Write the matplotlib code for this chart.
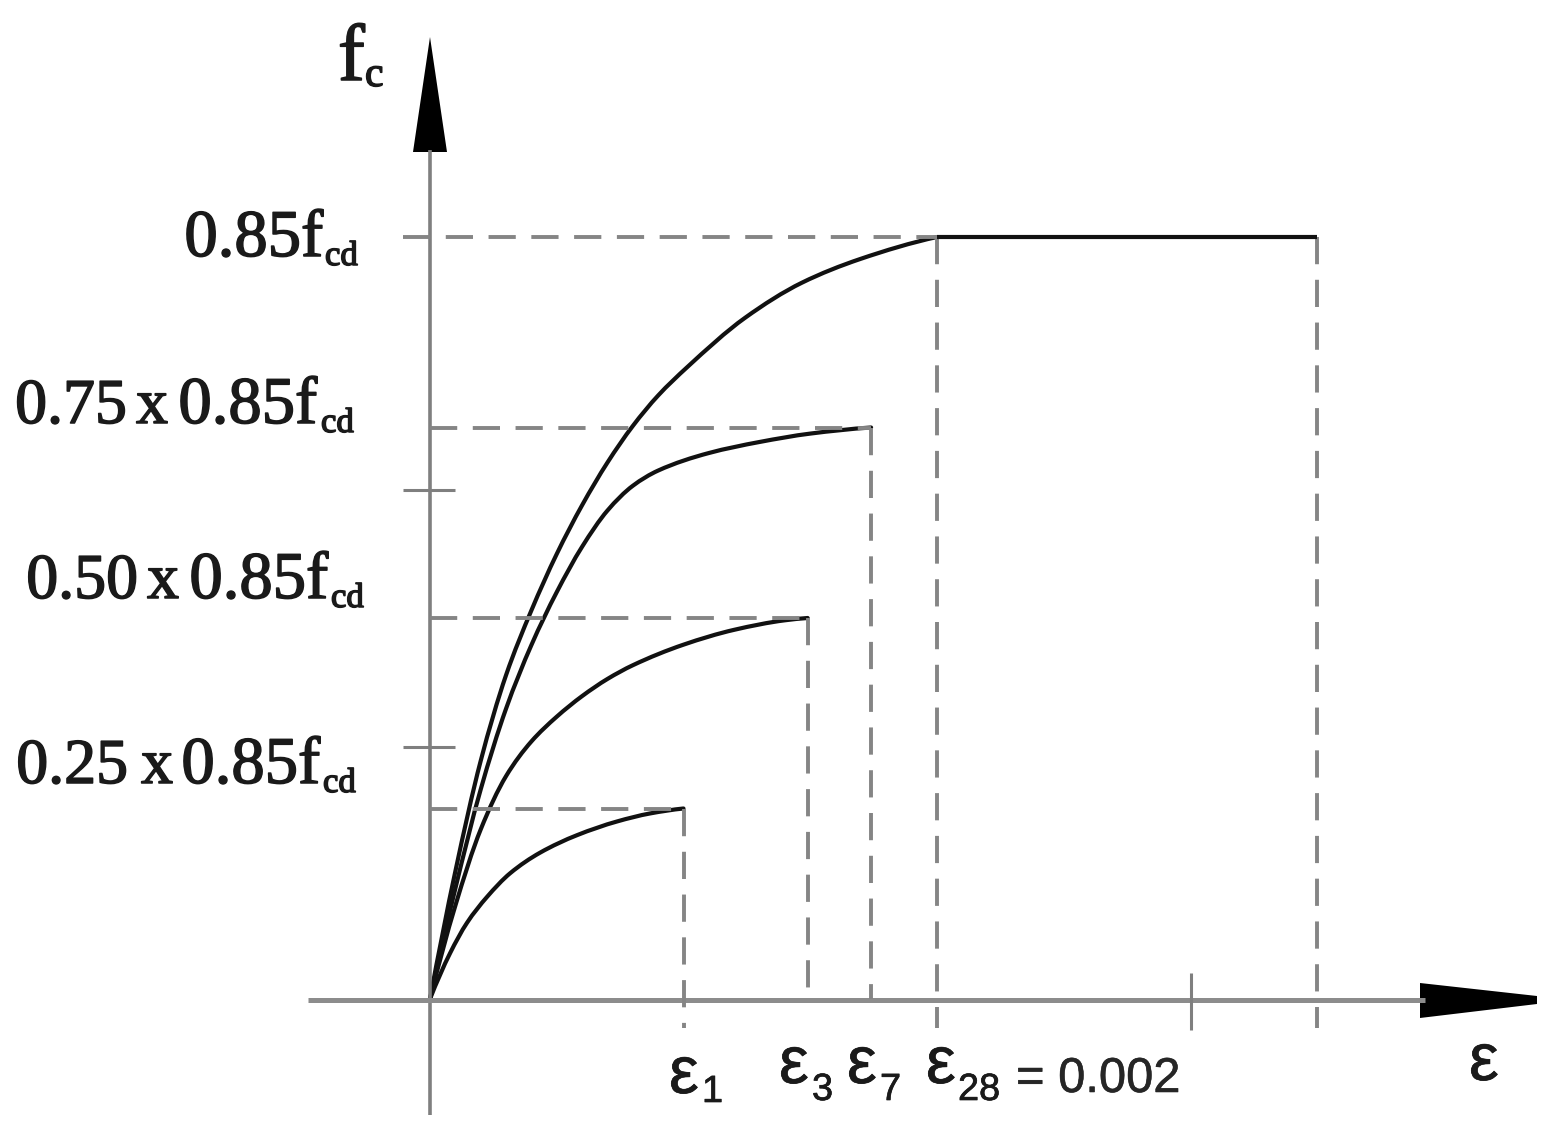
import matplotlib
matplotlib.use("Agg")
import matplotlib.pyplot as plt
import matplotlib.patheffects as pe
from matplotlib.path import Path
from matplotlib.patches import PathPatch
from matplotlib import font_manager as fm

# ---------------- data ----------------
# strain in per-mille (x 1e-3), stress as a fraction of 0.85 f_cd
age_subscripts = ["1", "3", "7", "28"]
peak_strain = [1.0, 1.49, 1.74, 2.0]
peak_stress = [0.25, 0.50, 0.75, 1.0]
ultimate_strain = 3.5
extra_xticks = [3.0]
extra_yticks = [0.331, 0.668]
level_prefix = ["0.25", "0.50", "0.75", ""]      # same order as peak_stress
level_times = "x"
level_base = "0.85f"
level_sub = "cd"
strain_value_text = "= 0.002"

curve_1_x = [0, 0.079, 0.146, 0.225, 0.316, 0.434, 0.580, 0.738, 0.868, 1.0]
curve_1_y = [0, 0.060, 0.100, 0.134, 0.165, 0.192, 0.215, 0.233, 0.2435, 0.25]

curve_3_x = [0, 0.1, 0.2, 0.3, 0.4, 0.5, 0.6, 0.7, 0.8, 1.0, 1.2, 1.4, 1.49]
curve_3_y = [0, 0.1225, 0.2225, 0.2925, 0.338, 0.3705, 0.3975, 0.420, 0.438,
             0.465, 0.4845, 0.497, 0.50]

curve_7_x = [0, 0.1, 0.2, 0.3, 0.4, 0.5, 0.6, 0.7, 0.8, 0.9, 1.1, 1.3, 1.5, 1.74]
curve_7_y = [0, 0.145, 0.275, 0.381, 0.4645, 0.534, 0.5935, 0.641, 0.6735,
             0.6935, 0.7165, 0.731, 0.742, 0.75]

curve_28_x = [0, 0.1, 0.2, 0.3, 0.4, 0.5, 0.6, 0.7, 0.8, 0.9, 1.014, 1.243,
              1.467, 1.696, 2.0]
curve_28_y = [0, 0.1675, 0.3125, 0.425, 0.510, 0.584, 0.648, 0.704, 0.752,
              0.792, 0.829, 0.894, 0.940, 0.971, 1.0]

curves_x = [curve_1_x, curve_3_x, curve_7_x, curve_28_x]
curves_y = [curve_1_y, curve_3_y, curve_7_y, curve_28_y]

# ---------------- layout ----------------
W, H = 1552, 1141
OX, OY = 430.0, 999.0          # origin in pixels
SX, SY = 253.5, 762.0          # pixels per data unit


def dx(px):
    return (px - OX) / SX


def dy(py):
    return (OY - py) / SY


def fx(px):
    return px / W


def fy(py):
    return 1 - py / H


def have_font(name):
    try:
        fm.findfont(fm.FontProperties(family=name), fallback_to_default=False)
        return True
    except Exception:
        return False


def smooth_path(xs, ys):
    """Smooth monotone cubic (Hermite/Bezier) path through the read points."""
    n = len(xs)
    h = [xs[i + 1] - xs[i] for i in range(n - 1)]
    d = [(ys[i + 1] - ys[i]) / h[i] for i in range(n - 1)]
    m = [0.0] * n
    for i in range(1, n - 1):
        if d[i - 1] * d[i] <= 0:
            m[i] = 0.0
        else:
            w1 = 2 * h[i] + h[i - 1]
            w2 = h[i] + 2 * h[i - 1]
            m[i] = (w1 + w2) / (w1 / d[i - 1] + w2 / d[i])
    m[0] = max(0.0, ((2 * h[0] + h[1]) * d[0] - h[0] * d[1]) / (h[0] + h[1]))
    m[-1] = max(0.0, ((2 * h[-1] + h[-2]) * d[-1] - h[-1] * d[-2]) / (h[-1] + h[-2]))
    verts = [(xs[0], ys[0])]
    codes = [Path.MOVETO]
    for i in range(n - 1):
        verts += [(xs[i] + h[i] / 3, ys[i] + m[i] * h[i] / 3),
                  (xs[i + 1] - h[i] / 3, ys[i + 1] - m[i + 1] * h[i] / 3),
                  (xs[i + 1], ys[i + 1])]
        codes += [Path.CURVE4] * 3
    return Path(verts, codes)


SERIF = "Liberation Serif"
NARROW = "Liberation Sans Narrow" if have_font("Liberation Sans Narrow") else "Liberation Sans"
narrow_scale = 1.0 if NARROW == "Liberation Sans Narrow" else 0.88

fig = plt.figure(figsize=(W / 100, H / 100), dpi=100)
ax = fig.add_axes([0, 0, 1, 1])
ax.set_xlim(dx(0), dx(W))
ax.set_ylim(dy(H), dy(0))
ax.axis("off")

AXIS_C = "#7f7f7f"
DASH_C = "#858585"
CURVE_C = "#111111"
TEXT_C = "#1a1a1a"
DLW = 2.8
DASHES = (7.0, 4.0)
thick = [pe.withStroke(linewidth=1.1, foreground=TEXT_C)]
thin = [pe.withStroke(linewidth=0.5, foreground=TEXT_C)]

# axes lines and arrows
ax.plot([0, 0], [dy(1115), dy(150)], color=AXIS_C, lw=2.6, solid_capstyle="butt")
ax.fill([dx(413), dx(447), dx(430)], [dy(152), dy(152), dy(37)], color="black", lw=0)
ax.plot([dx(308), dx(1425)], [dy(1000), dy(1000)], color="#8c8c8c", lw=3.6,
        solid_capstyle="butt")
ax.fill([dx(1420), dx(1420), dx(1537), dx(1537)],
        [dy(983), dy(1018), dy(1004), dy(996)], color="black", lw=0)

# extra ticks
for v in extra_yticks:
    ax.plot([dx(403), dx(455)], [v, v], color=AXIS_C, lw=2.2, solid_capstyle="butt")
for v in extra_xticks:
    ax.plot([v, v], [dy(973), dy(1030)], color=AXIS_C, lw=2.2, solid_capstyle="butt")

# dashed reference lines
for i, (s, p) in enumerate(zip(peak_strain, peak_stress)):
    x_start = dx(403) if p == max(peak_stress) else 0
    ax.plot([x_start, s], [p, p], color=DASH_C, lw=DLW, dashes=DASHES,
            dash_capstyle="butt")
    y_end = dy(1028) if age_subscripts[i] in ("1", "28") else 0
    ax.plot([s, s], [p, y_end], color=DASH_C, lw=DLW, dashes=DASHES,
            dash_capstyle="butt")
ax.plot([ultimate_strain, ultimate_strain], [max(peak_stress), dy(1028)],
        color=DASH_C, lw=DLW, dashes=DASHES, dash_capstyle="butt")

# stress-strain curves (smooth cubic through the read points)
for cx, cy in zip(curves_x, curves_y):
    ax.add_patch(PathPatch(smooth_path(cx, cy), facecolor="none",
                           edgecolor=CURVE_C, lw=3.0, capstyle="round",
                           joinstyle="round"))
ax.plot([peak_strain[-1], ultimate_strain], [max(peak_stress)] * 2,
        color=CURVE_C, lw=3.0, solid_capstyle="butt")

# ---------------- text ----------------
# y level labels (serif), pixel anchors per level (same order as peak_stress)
base_right = [320, 328, 317, 323]
base_line = [783, 598, 423, 256]
times_center = [157, 163, 152, 0]
prefix_right = [128, 138, 127, 0]
sub_left = [323, 331, 321, 325]
for i, pre in enumerate(level_prefix):
    kw = dict(family=SERIF, va="baseline", color=TEXT_C, path_effects=thick)
    fig.text(fx(base_right[i]), fy(base_line[i]), level_base, fontsize=48,
             ha="right", **kw)
    fig.text(fx(sub_left[i]), fy(base_line[i] + 9), level_sub, fontsize=25,
             ha="left", **kw)
    if pre:
        fig.text(fx(times_center[i]), fy(base_line[i]), level_times, fontsize=46,
                 ha="center", **kw)
        fig.text(fx(prefix_right[i]), fy(base_line[i]), pre, fontsize=46,
                 ha="right", **kw)

# f_c axis label
fig.text(fx(338), fy(80), "f", family=SERIF, fontsize=58, ha="left",
         va="baseline", color=TEXT_C, path_effects=thick)
fig.text(fx(365), fy(86), "c", family=SERIF, fontsize=30, ha="left",
         va="baseline", color=TEXT_C, path_effects=thick)

# strain labels (sans)
eps_pos = [(669, 1093), (779, 1083), (847, 1083), (926, 1083)]
sub_eps_pos = [(702, 1102), (812, 1100), (880, 1100), (958, 1100)]
for k, sub in enumerate(age_subscripts):
    fig.text(fx(eps_pos[k][0]), fy(eps_pos[k][1]), "ε", family="Liberation Sans",
             fontsize=48, ha="left", va="baseline", color=TEXT_C,
             path_effects=thin)
    fig.text(fx(sub_eps_pos[k][0]), fy(sub_eps_pos[k][1]), sub, family=NARROW,
             fontsize=31 * narrow_scale, ha="left", va="baseline", color=TEXT_C,
             path_effects=thin)
fig.text(fx(1016), fy(1092), strain_value_text, family=NARROW,
         fontsize=40 * narrow_scale, ha="left", va="baseline", color="#262626",
         path_effects=[pe.withStroke(linewidth=0.4, foreground="#262626")])
fig.text(fx(1469), fy(1080), "ε", family="Liberation Sans", fontsize=48,
         ha="left", va="baseline", color=TEXT_C, path_effects=thin)

fig.savefig("out.png", dpi=100, facecolor="white")
